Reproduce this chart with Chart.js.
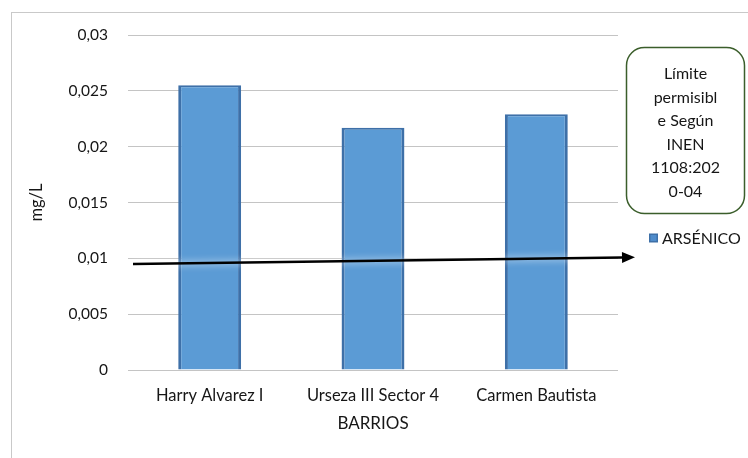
<!DOCTYPE html>
<html>
<head>
<meta charset="utf-8">
<script src="https://cdn.jsdelivr.net/npm/chart.js@4/dist/chart.umd.min.js"></script>
<style>
  html, body { margin: 0; padding: 0; background: #ffffff; }
  canvas { display: block; }
</style>
</head>
<body>
<canvas id="chart" width="748" height="458"></canvas>
<script>
// Arsenic concentration per neighbourhood (mg/L)
const barrios = ['Harry Alvarez I', 'Urseza III Sector 4', 'Carmen Bautista'];
const arsenico = [0.0255, 0.0217, 0.0229];
const yTickLabels = ['0', '0,005', '0,01', '0,015', '0,02', '0,025', '0,03'];
const seriesLabel = 'ARSÉNICO';

// Permissible limit arrow (start and end level in mg/L) and its note
const limiteInicio = 0.0095;
const limiteFin = 0.0101;
const notaLimite = ['Límite', 'permisibl', 'e Según', 'INEN', '1108:202', '0-04'];

const FONT = 'Lato, "Open Sans", sans-serif';
const TEXT = '#161616';
const BAR = '#5B9BD5';
const BAR_EDGE = '#3E70A8';

const decorations = {
  id: 'decorations',
  beforeDraw(chart) {
    const ctx = chart.ctx;
    ctx.save();
    ctx.fillStyle = '#ffffff';
    ctx.fillRect(0, 0, chart.width, chart.height);
    // outer frame
    ctx.strokeStyle = '#C9C9C9';
    ctx.lineWidth = 1;
    ctx.strokeRect(11.5, 12.5, chart.width + 20, chart.height + 20);
    ctx.restore();
  },
  afterDatasetsDraw(chart) {
    const ctx = chart.ctx;
    const area = chart.chartArea;
    const y = chart.scales.y;

    // limit arrow
    const x0 = area.left + 5;
    const x1 = area.right + 17;
    const y0 = y.getPixelForValue(limiteInicio);
    const y1 = y.getPixelForValue(limiteFin);
    const ang = Math.atan2(y1 - y0, x1 - x0);
    const headLen = 13, headHalf = 5.5;
    const bx = x1 - headLen * Math.cos(ang);
    const by = y1 - headLen * Math.sin(ang);
    ctx.save();
    ctx.strokeStyle = '#000000';
    ctx.lineWidth = 2.5;
    ctx.shadowColor = 'rgba(255,255,255,0.85)';
    ctx.shadowBlur = 7;
    ctx.beginPath();
    ctx.moveTo(x0, y0);
    ctx.lineTo(bx, by);
    ctx.stroke();
    ctx.shadowBlur = 0;
    ctx.fillStyle = '#000000';
    ctx.beginPath();
    ctx.moveTo(x1, y1);
    ctx.lineTo(bx - headHalf * Math.sin(ang), by + headHalf * Math.cos(ang));
    ctx.lineTo(bx + headHalf * Math.sin(ang), by - headHalf * Math.cos(ang));
    ctx.closePath();
    ctx.fill();
    ctx.restore();
  },
  afterDraw(chart) {
    const ctx = chart.ctx;
    const area = chart.chartArea;
    ctx.save();

    // note box with the limit reference
    const bxL = area.right + 8.5, bxT = 47.5, bw = 118, bh = 166, r = 18;
    ctx.strokeStyle = '#3B5E2B';
    ctx.lineWidth = 1.5;
    ctx.beginPath();
    ctx.roundRect(bxL, bxT, bw, bh, r);
    ctx.stroke();
    ctx.fillStyle = TEXT;
    ctx.font = '16px ' + FONT;
    ctx.textAlign = 'center';
    ctx.textBaseline = 'middle';
    notaLimite.forEach((line, i) => {
      ctx.fillText(line, bxL + bw / 2, 74 + i * 23.5);
    });

    // legend entry
    const lx = area.right + 31, ly = 238;
    ctx.fillStyle = BAR_EDGE;
    ctx.fillRect(lx, ly - 4.5, 9, 9);
    ctx.fillStyle = '#4F8CCB';
    ctx.fillRect(lx + 1.5, ly - 3, 6, 6);
    ctx.fillStyle = TEXT;
    ctx.font = '16px ' + FONT;
    ctx.textAlign = 'left';
    ctx.fillText(chart.data.datasets[0].label, lx + 13, ly + 1);
    ctx.restore();
  }
};

new Chart(document.getElementById('chart'), {
  type: 'bar',
  data: {
    labels: barrios,
    datasets: [{
      label: seriesLabel,
      data: arsenico,
      backgroundColor: BAR,
      borderColor: BAR_EDGE,
      borderWidth: { top: 2, left: 3, right: 3, bottom: 0 },
      borderSkipped: 'bottom',
      categoryPercentage: 1,
      barPercentage: 0.385
    }]
  },
  options: {
    responsive: false,
    animation: false,
    devicePixelRatio: 1,
    layout: { padding: { top: 35, right: 130, bottom: 0, left: 0 } },
    plugins: {
      legend: { display: false },
      tooltip: { enabled: false }
    },
    scales: {
      x: {
        grid: { display: false, drawTicks: false },
        border: { display: false },
        ticks: { color: TEXT, font: { family: FONT, size: 16.5 }, padding: 16 },
        title: {
          display: true, text: 'BARRIOS', color: TEXT,
          font: { family: FONT, size: 17 }, padding: { top: 4, bottom: 24 }
        },
        afterFit(scale) { scale.height = 88; }
      },
      y: {
        min: 0, max: 0.03,
        grid: { color: '#C4C4C4', lineWidth: 1, drawTicks: false },
        border: { display: false },
        ticks: {
          stepSize: 0.005,
          color: TEXT,
          font: { family: FONT, size: 15.5 },
          padding: 20,
          callback: (v, i) => yTickLabels[i]
        },
        title: {
          display: true, text: 'mg/L', color: TEXT,
          font: { family: FONT, size: 16.5 }, padding: { top: 27, bottom: 0 }
        },
        afterFit(scale) { scale.width = 128; }
      }
    }
  },
  plugins: [decorations]
});
</script>
</body>
</html>
